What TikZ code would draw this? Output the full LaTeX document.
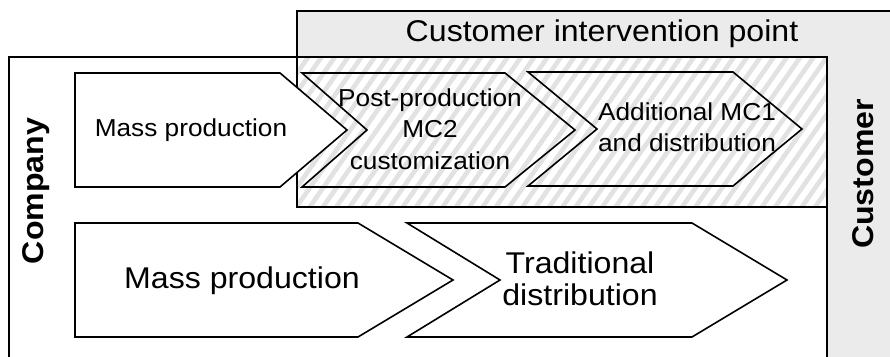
\documentclass[tikz,border=0pt]{standalone}
\usepackage{fontspec}
\setmainfont[FakeStretch=1.07]{Liberation Sans}
\usetikzlibrary{calc}
\definecolor{custgray}{HTML}{EBEBEB}
\definecolor{hatchgray}{HTML}{E2E2E2}
\begin{document}
\begin{tikzpicture}[x=1pt,y=-1pt,
  frame/.style={draw=black,line width=1.6pt},
  chev/.style={draw=black,line width=1.6pt,line join=miter},
  bigtxt/.style={font=\fontsize{30}{32}\selectfont,align=center,inner sep=0pt},
  smalltxt/.style={font=\fontsize{24.5}{31.5}\selectfont,align=center,inner sep=0pt},
  sidetxt/.style={font=\fontsize{30}{32}\selectfont\bfseries,rotate=90,anchor=base,inner sep=0pt}]
\useasboundingbox (0,0) rectangle (890,356);
\clip (0,0) rectangle (890,356);

% customer area (grey) with the intervention header
\path[frame,fill=custgray] (297,11) rectangle (900,370);
% company area
\path[frame,fill=white] (9,57) rectangle (827,370);

% hatched customer intervention zone
\begin{scope}
  \clip (297,57) rectangle (827,207);
  \foreach \k in {0,...,52} {
    \draw[hatchgray,line width=4.6pt] ({190+13.3*\k},207) -- ({295+13.3*\k},57);
  }
\end{scope}
\draw[frame] (297,57) rectangle (827,207);

% upper chain of steps
\draw[chev,fill=white] (75,73) -- (280,73) -- (347,130) -- (280,187) -- (75,187) -- cycle;
\draw[chev] (302,73) -- (505,73) -- (575,130) -- (505,187) -- (302,187) -- (367,130) -- cycle;
\draw[chev] (528,72) -- (733,72) -- (802,129) -- (733,186) -- (528,186) -- (597,129) -- cycle;

% lower chain of steps
\draw[chev,fill=white] (75,223) -- (358,223) -- (453,280) -- (358,337) -- (75,337) -- cycle;
\draw[chev] (407,223) -- (692,223) -- (787,280) -- (692,337) -- (407,337) -- (500,280) -- cycle;

% labels
\node[bigtxt] (cip) at (602,34) {Customer intervention point};
\node[smalltxt] (mp1) at (191,130) {Mass production};
\node[smalltxt] (ppc) at (430,129) {Post-production\\MC2\\customization};
\node[smalltxt] (amc) at (687,127) {Additional MC1\\and distribution};
\node[bigtxt] (mp2) at (242,281) {Mass production};
\node[bigtxt] (trd) at (580,279) {Traditional\\distribution};
\node[sidetxt] (comp) at (43.5,191) {Company};
\node[sidetxt] (cust) at (873,174) {Customer};
\end{tikzpicture}
\end{document}
